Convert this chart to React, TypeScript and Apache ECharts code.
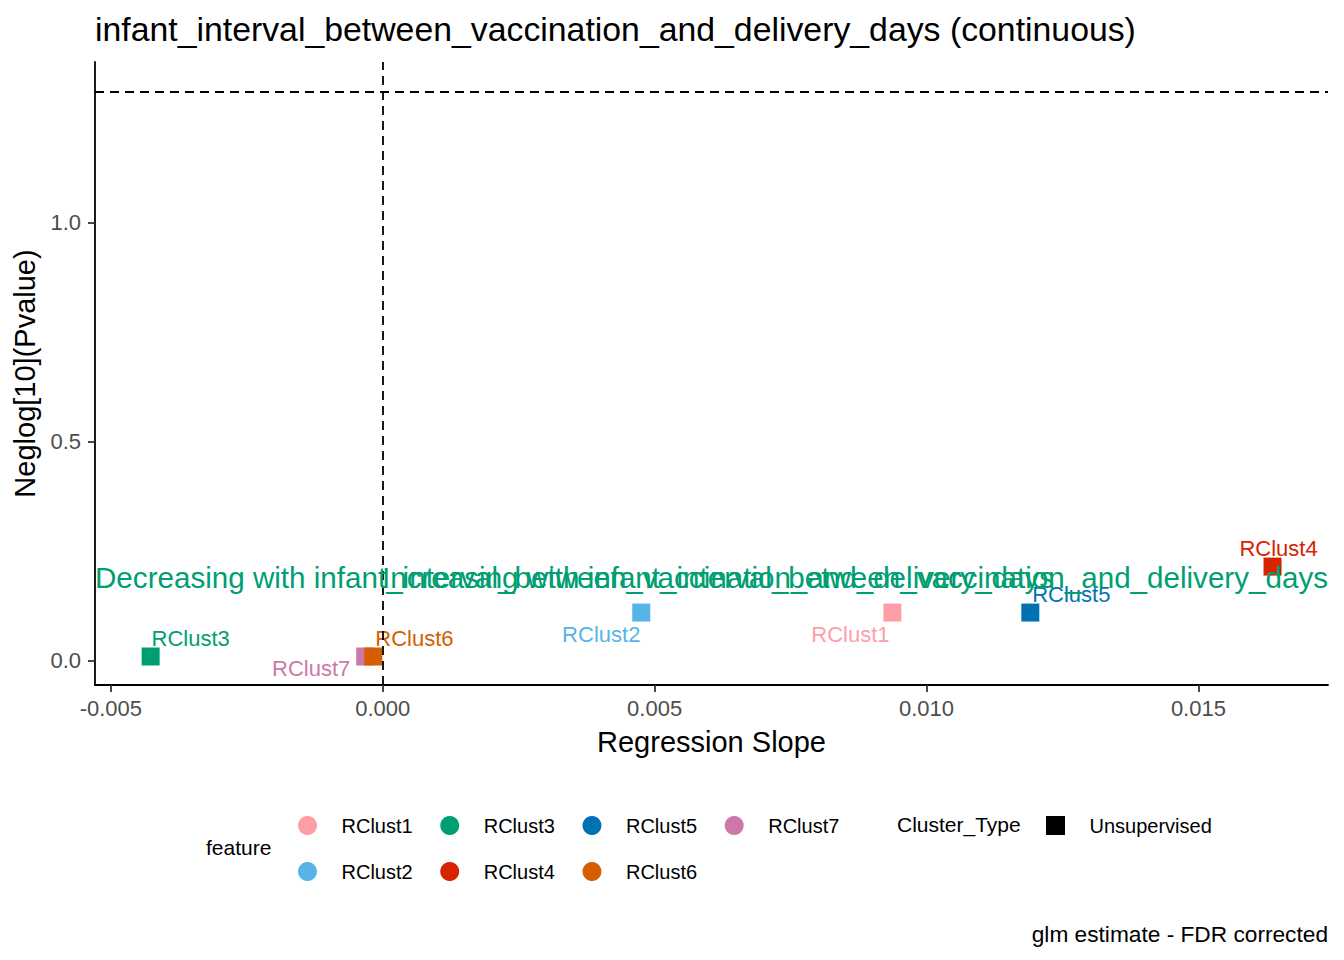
import React, { useEffect, useRef } from "react";
import * as echarts from "echarts";

const clusters = ["RClust1", "RClust2", "RClust3", "RClust4", "RClust5", "RClust7", "RClust6"];
const slopes = [0.009373, 0.004754, -0.004268, 0.016363, 0.011909, -0.000322, -0.000172];
const negLogP = [0.110, 0.110, 0.0096, 0.215, 0.110, 0.0096, 0.0096];
const colors = ["#FF9DA7", "#56B4E9", "#009E73", "#D62300", "#0072B2", "#CC79A7", "#D55E00"];
const xTicks = [-0.005, 0.0, 0.005, 0.01, 0.015];
const yTicks = [0.0, 0.5, 1.0];
const X_MIN = -0.005291;
const X_MAX = 0.017383;
const Y_MIN = -0.0555;
const Y_MAX = 1.3678;
const SIG_LINE = 1.30103; // -log10(0.05)
const ANNOT_Y = 0.189;
const decText = "Decreasing with infant_interval_between_vaccination_and_delivery_days";
const incText = "Increasing with infant_interval_between_vaccination_and_delivery_days";
const legendRow1 = ["RClust1", "RClust3", "RClust5", "RClust7"];
const legendRow2 = ["RClust2", "RClust4", "RClust6"];

// label offsets (pixels, relative to the point) for the repelled labels
const labelOffsets: Record<string, [number, number]> = {
  RClust1: [-42, 22],
  RClust2: [-40, 22],
  RClust3: [40, -18],
  RClust4: [6, -18],
  RClust5: [41, -18],
  RClust6: [41, -18],
  RClust7: [-54, 12],
};

const FONT = "'Liberation Sans', Arial, Helvetica, sans-serif";

export default function App() {
  const ref = useRef<HTMLDivElement>(null);
  useEffect(() => {
    if (!ref.current) return;
    const chart = echarts.init(ref.current, undefined, { renderer: "svg" });

    const pointSeries: any[] = clusters.map((name, i) => ({
      name,
      type: "scatter",
      symbol: "rect",
      symbolSize: 18,
      itemStyle: { color: colors[i], opacity: 1 },
      z: 3,
      data: [[slopes[i], negLogP[i]]],
      label: {
        show: true,
        formatter: name,
        position: "inside",
        offset: labelOffsets[name],
        color: colors[i],
        fontSize: 22,
        fontFamily: FONT,
      },
      emphasis: { disabled: true },
    }));

    const annotSeries = {
      name: "annot",
      type: "scatter",
      symbolSize: 1,
      itemStyle: { color: "transparent", opacity: 1 },
      z: 5,
      silent: true,
      data: [
        {
          value: [X_MIN, ANNOT_Y],
          label: { show: true, formatter: decText, position: "inside", align: "left" },
        },
        {
          value: [X_MAX, ANNOT_Y],
          label: { show: true, formatter: incText, position: "inside", align: "right" },
        },
      ],
      label: {
        color: "#009E73",
        opacity: 1,
        fontSize: 29.6,
        fontFamily: FONT,
        verticalAlign: "middle",
      },
      markLine: {
        silent: true,
        symbol: ["none", "none"],
        label: { show: false },
        lineStyle: { color: "#000", width: 1.8, type: [9, 6], opacity: 1 },
        data: [{ xAxis: 0 }, { yAxis: SIG_LINE }],
      },
    };

    const unsupSeries = {
      name: "Unsupervised",
      type: "scatter",
      data: [],
      itemStyle: { color: "#000", opacity: 1 },
    };

    const legendCommon = {
      orient: "horizontal",
      itemWidth: 58,
      itemHeight: 19,
      itemGap: 27.6,
      selectedMode: false,
      padding: 0,
      textStyle: { fontSize: 20, color: "#000", fontFamily: FONT },
    };

    chart.setOption({
      animation: false,
      backgroundColor: "#fff",
      textStyle: { fontFamily: FONT },
      title: {
        text: "infant_interval_between_vaccination_and_delivery_days (continuous)",
        left: 95,
        top: 12,
        padding: 0,
        textStyle: { fontSize: 33.8, fontWeight: "normal", color: "#000", fontFamily: FONT },
      },
      grid: { left: 95, right: 16, top: 62, bottom: 275, containLabel: false },
      xAxis: {
        type: "value",
        min: X_MIN,
        max: X_MAX,
        name: "Regression Slope",
        nameLocation: "middle",
        nameGap: 42,
        nameTextStyle: { fontSize: 29, color: "#000", fontFamily: FONT },
        axisLine: { show: true, onZero: false, lineStyle: { color: "#000", width: 1.8 } },
        axisTick: { show: true, length: 7, lineStyle: { color: "#333", width: 1.8 }, customValues: xTicks },
        axisLabel: {
          customValues: xTicks,
          formatter: (v: number) => v.toFixed(3),
          fontSize: 22,
          color: "#4D4D4D",
          margin: 12,
          fontFamily: FONT,
        },
        splitLine: { show: false },
      },
      yAxis: {
        type: "value",
        min: Y_MIN,
        max: Y_MAX,
        name: "Neglog[10](Pvalue)",
        nameLocation: "middle",
        nameGap: 52,
        nameRotate: 90,
        nameTextStyle: { fontSize: 29, color: "#000", fontFamily: FONT },
        axisLine: { show: true, onZero: false, lineStyle: { color: "#000", width: 1.8 } },
        axisTick: { show: true, length: 7, lineStyle: { color: "#333", width: 1.8 }, customValues: yTicks },
        axisLabel: {
          customValues: yTicks,
          formatter: (v: number) => v.toFixed(1),
          fontSize: 22,
          color: "#4D4D4D",
          margin: 14,
          fontFamily: FONT,
        },
        splitLine: { show: false },
      },
      legend: [
        {
          ...legendCommon,
          left: 298,
          top: 815.5,
          data: legendRow1.map((n) => ({ name: n, icon: "circle" })),
        },
        {
          ...legendCommon,
          left: 298,
          top: 861.5,
          data: legendRow2.map((n) => ({ name: n, icon: "circle" })),
        },
        {
          ...legendCommon,
          left: 1046,
          top: 815.5,
          data: [
            {
              name: "Unsupervised",
              icon: "path://M0,0H18V18H0Z",
              itemStyle: { color: "#000", opacity: 1 },
            },
          ],
        },
      ],
      graphic: [
        {
          type: "text",
          left: 206,
          top: 837,
          style: { text: "feature", fontSize: 21, fill: "#000", fontFamily: FONT },
        },
        {
          type: "text",
          left: 897,
          top: 814,
          style: { text: "Cluster_Type", fontSize: 21, fill: "#000", fontFamily: FONT },
        },
        {
          type: "text",
          right: 16,
          top: 922,
          style: { text: "glm estimate - FDR corrected", fontSize: 22.7, fill: "#000", fontFamily: FONT },
        },
      ],
      series: [...pointSeries, annotSeries, unsupSeries],
    });

    return () => chart.dispose();
  }, []);

  return (
    <div
      ref={ref}
      style={{ position: "fixed", left: 0, top: 0, width: 1344, height: 960, background: "#fff" }}
    />
  );
}
